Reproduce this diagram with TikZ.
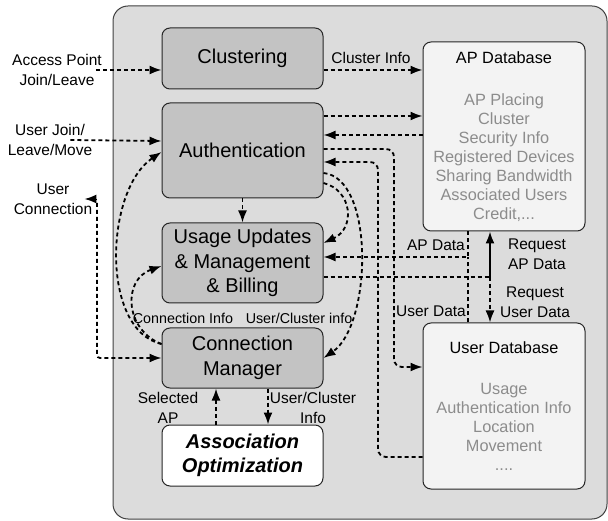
\documentclass[tikz,border=0pt]{standalone}
\usepackage{fontspec}
\setmainfont{Liberation Sans}
\usetikzlibrary{arrows.meta}
\definecolor{panel}{HTML}{DCDCDC}
\definecolor{boxfill}{HTML}{C3C3C3}
\definecolor{dbfill}{HTML}{F3F3F3}
\definecolor{itemgray}{HTML}{8C8C8C}
\tikzset{
  box/.style={draw=black!85, line width=1pt, fill=boxfill, rounded corners=8pt, minimum width=161pt, inner sep=0pt, align=center, font=\fontsize{20}{24.5}\selectfont},
  dbbox/.style={draw=black!85, line width=1pt, fill=dbfill, text=itemgray, rounded corners=8pt, minimum width=162pt, inner sep=0pt, align=center, font=\fontsize{16.3}{19}\selectfont},
  lbl/.style={inner sep=0pt, align=center, font=\fontsize{15.5}{19.5}\selectfont},
  flow/.style={line width=1.8pt, dash pattern=on 4pt off 3pt, ->},
}
\begin{document}
\begin{tikzpicture}[x=1pt, y=-1pt, >={Latex[length=12pt,width=9pt]}]
    \useasboundingbox (0,0) rectangle (608,521);
    \draw[black!75, line width=1pt, fill=panel, rounded corners=15pt] (113,6) rectangle (607,519);
    \node[box, minimum height=61pt] (clus) at (242.5,58.5) {Clustering};
    \node[box, minimum height=95pt] (auth) at (242.5,150.5) {Authentication};
    \node[box, minimum height=80pt] (usage) at (242.5,263) {Usage Updates\\\& Management\\\& Billing};
    \node[box, minimum height=60pt] (cm) at (242.5,358) {Connection\\Manager};
    \node[box, fill=white, minimum height=61pt, font=\fontsize{20}{24.5}\selectfont\bfseries\itshape] (ao) at (242.5,455.5) {Association\\Optimization};
    \node[dbbox, minimum height=189pt] (apdb) at (504,136.5) {\textcolor{black}{AP Database}\\[23pt]AP Placing\\Cluster\\Security Info\\Registered Devices\\Sharing Bandwidth\\Associated Users\\Credit,...};
    \node[dbbox, minimum height=166pt] (userdb) at (504,406) {\textcolor{black}{User Database}\\[22pt]Usage\\Authentication Info\\Location\\Movement\\....};
    \node[lbl] (apjl) at (57,70) {Access Point\\Join/Leave};
    \node[lbl] (ujlm) at (50,140) {User Join/\\Leave/Move};
    \node[lbl] (ucon) at (53,199) {User\\Connection};
    \node[lbl] (clinfo) at (371,58) {Cluster Info};
    \node[lbl] (apdata) at (436,245) {AP Data};
    \node[lbl] (usrdata) at (431,311) {User Data};
    \node[lbl] (reqap) at (537,254) {Request\\AP Data};
    \node[lbl] (requsr) at (535,302) {Request\\User Data};
    \node[lbl, font=\fontsize{14.3}{18}\selectfont] (conninfo) at (183,318) {Connection Info};
    \node[lbl, font=\fontsize{14.3}{18}\selectfont] (ucinfo) at (299,318) {User/Cluster info};
    \node[lbl] (selap) at (168,408) {Selected\\AP};
    \node[lbl] (ucinfob) at (313,408) {User/Cluster\\Info};
    \coordinate (req) at (490,277);
    \draw[flow] ([xshift=-6pt]apjl.east) -- (clus.west |- apjl.east);
    \draw[flow] ([xshift=-22pt]ujlm.east) -- (auth.west |- 0,141);
    \draw[flow, <->, rounded corners=3pt] ([xshift=-8pt]ucon.east) -| (97,358) -- (cm.west);
    \draw[flow] (clus.east |- 0,70) -- (apdb.west |- 0,70);
    \draw[flow] (auth.east |- 0,116) -- (apdb.west |- 0,116);
    \draw[flow] (apdb.west |- 0,135) -- (auth.east |- 0,135);
    \draw[flow, rounded corners=8pt] (auth.east |- 0,149) -| (394,367) -- (userdb.west |- 0,367);
    \draw[flow, rounded corners=8pt] (userdb.west |- 0,457) -| (378,162) -- (auth.east |- 0,162);
    \draw[flow] (auth.south) -- (usage.north);
    \draw[flow] (auth.east |- 0,183) .. controls (352,190) and (356,228) .. (usage.east |- 0,243);
    \draw[flow] (auth.east |- 0,173) .. controls (375,178) and (372,325) .. (cm.east);
    \draw[flow] (cm.west |- 0,344) .. controls (125,330) and (122,280) .. (usage.west |- 0,266);
    \draw[flow] (cm.west |- 0,344) .. controls (100,330) and (105,190) .. (auth.west |- 0,152);
    \draw[flow] (apdb.south -| 468,0) |- (usage.east |- 0,257);
    \draw[flow, -] (userdb.north -| 468,0) -- (468,257);
    \draw[flow, -] (usage.east |- req) -- (req);
    \draw[line width=1.8pt, ->] (req) -- (apdb.south -| req);
    \draw[flow] (req) -- (userdb.north -| req);
    \draw[flow] (ao.north -| 216,0) -- (cm.south -| 216,0);
    \draw[flow] (cm.south -| 268,0) -- (ao.north -| 268,0);
\end{tikzpicture}
\end{document}
